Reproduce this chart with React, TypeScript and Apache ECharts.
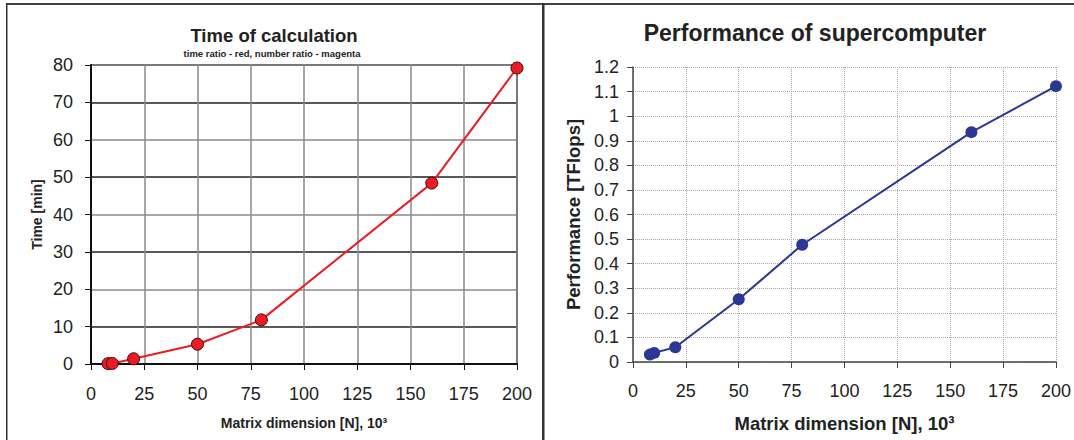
import React, { useEffect, useRef } from "react";
import * as echarts from "echarts";

const timeX = [8, 10, 20, 50, 80, 160, 200];
const timeY = [0.1, 0.15, 1.4, 5.3, 11.8, 48.4, 79.2];
const perfX = [8, 10, 20, 50, 80, 160, 200];
const perfY = [0.03, 0.037, 0.06, 0.255, 0.477, 0.935, 1.122];

const leftTitle = "Time of calculation";
const leftSubtitle = "time ratio - red, number ratio - magenta";
const rightTitle = "Performance of supercomputer";
const xName = "Matrix dimension [N], 10\u00b3";
const leftYName = "Time [min]";
const rightYName = "Performance [TFlops]";

const FONT = "Liberation Sans, Arial, Helvetica, sans-serif";

export default function App() {
  const ref = useRef<HTMLDivElement>(null);
  useEffect(() => {
    if (!ref.current) return;
    const chart = echarts.init(ref.current, undefined, { renderer: "svg" });
    const labelStyle = { color: "#222", fontSize: 18, fontFamily: FONT };
    chart.setOption({
      animation: false,
      backgroundColor: "#fff",
      textStyle: { fontFamily: FONT },
      grid: [
        { left: 91, top: 65, width: 426, height: 299, show: true, borderColor: "#111", borderWidth: 1.5 },
        { left: 633, top: 67, width: 425, height: 295 },
      ],
      xAxis: [
        {
          type: "value", gridIndex: 0, min: 0, max: 200, interval: 25,
          name: xName, nameLocation: "middle", nameGap: 52,
          nameTextStyle: { fontSize: 14, fontWeight: "bold", color: "#222", fontFamily: FONT },
          axisLine: { show: true, onZero: false, lineStyle: { color: "#111", width: 2 } },
          axisTick: { show: true, length: 6, lineStyle: { color: "#111", width: 1 } },
          axisLabel: { ...labelStyle, margin: 21 },
          splitLine: { show: true, lineStyle: { color: "#8a8a8a", width: 1.5 } },
        },
        {
          type: "value", gridIndex: 1, min: 0, max: 200, interval: 25,
          name: xName, nameLocation: "middle", nameGap: 52,
          nameTextStyle: { fontSize: 18.5, fontWeight: "bold", color: "#222", fontFamily: FONT },
          axisLine: { show: true, onZero: false, lineStyle: { color: "#444", width: 1.5 } },
          axisTick: { show: true, length: 6, lineStyle: { color: "#444", width: 1 } },
          axisLabel: { ...labelStyle, margin: 20 },
          splitLine: { show: true, lineStyle: { color: "#aaa", width: 1, type: "dotted" } },
        },
      ],
      yAxis: [
        {
          type: "value", gridIndex: 0, min: 0, max: 80, interval: 10,
          name: leftYName, nameLocation: "middle", nameGap: 47,
          nameTextStyle: { fontSize: 14, fontWeight: "bold", color: "#222", fontFamily: FONT },
          axisLine: { show: true, onZero: false, lineStyle: { color: "#111", width: 2 } },
          axisTick: { show: true, length: 6, lineStyle: { color: "#111", width: 1 } },
          axisLabel: { ...labelStyle, margin: 18 },
          splitLine: { show: true, lineStyle: { color: ["#8a8a8a", "#222"], width: 1.5 } },
        },
        {
          type: "value", gridIndex: 1, min: 0, max: 1.2, interval: 0.1,
          name: rightYName, nameLocation: "middle", nameGap: 50,
          nameTextStyle: { fontSize: 18.5, fontWeight: "bold", color: "#222", fontFamily: FONT },
          axisLine: { show: true, onZero: false, lineStyle: { color: "#444", width: 1.5 } },
          axisTick: { show: true, length: 6, lineStyle: { color: "#444", width: 1 } },
          axisLabel: {
            ...labelStyle, margin: 14,
            formatter: (v: number) => String(Math.round(v * 10) / 10),
          },
          splitLine: { show: true, lineStyle: { color: "#aaa", width: 1, type: "dotted" } },
        },
      ],
      series: [
        {
          type: "line", xAxisIndex: 0, yAxisIndex: 0,
          data: timeX.map((x, i) => [x, timeY[i]]),
          symbol: "circle", symbolSize: 12,
          lineStyle: { color: "#ec1c24", width: 2 },
          itemStyle: { color: "#ec1c24", borderColor: "#3a0a0a", borderWidth: 1 },
          z: 5,
        },
        {
          type: "line", xAxisIndex: 1, yAxisIndex: 1,
          data: perfX.map((x, i) => [x, perfY[i]]),
          symbol: "circle", symbolSize: 12,
          lineStyle: { color: "#2b3695", width: 2 },
          itemStyle: { color: "#2b3695" },
          z: 5,
        },
      ],
      graphic: [
        { type: "rect", shape: { x: 6, y: 3, width: 1068, height: 2 }, style: { fill: "#444" }, silent: true },
        { type: "rect", shape: { x: 6, y: 3, width: 1.5, height: 437 }, style: { fill: "#333" }, silent: true },
        { type: "rect", shape: { x: 542, y: 3, width: 2.5, height: 437 }, style: { fill: "#333" }, silent: true },
        {
          type: "text", x: 274, y: 35,
          style: { text: leftTitle, textAlign: "center", textVerticalAlign: "middle", fontSize: 18.5, fontWeight: "bold", fill: "#222", fontFamily: FONT },
        },
        {
          type: "text", x: 272, y: 53,
          style: { text: leftSubtitle, textAlign: "center", textVerticalAlign: "middle", fontSize: 9.5, fontWeight: "bold", fill: "#222", fontFamily: FONT },
        },
        {
          type: "text", x: 815, y: 33,
          style: { text: rightTitle, textAlign: "center", textVerticalAlign: "middle", fontSize: 23, fontWeight: "bold", fill: "#222", fontFamily: FONT },
        },
      ],
    });
    return () => chart.dispose();
  }, []);
  return (
    <div
      ref={ref}
      style={{ position: "fixed", left: 0, top: 0, width: 1074, height: 440, background: "#fff" }}
    />
  );
}
